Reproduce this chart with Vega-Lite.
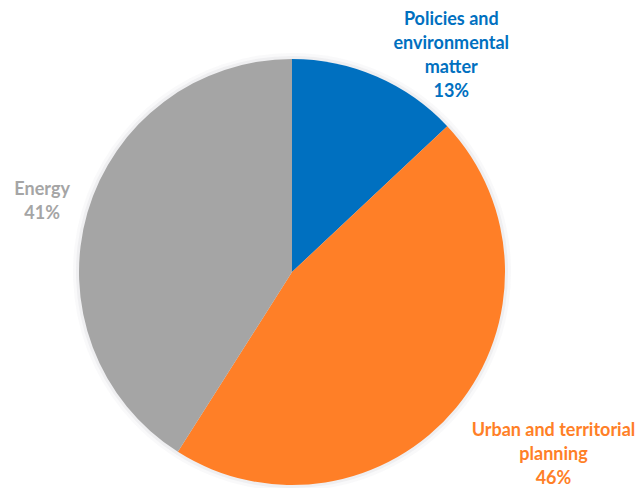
{
  "$schema": "https://vega.github.io/schema/vega-lite/v6.json",
  "width": 584,
  "height": 426,
  "autosize": {"type": "none"},
  "padding": {"left": 0, "top": 59, "right": 56, "bottom": 3},
  "background": "white",
  "config": {"view": {"stroke": null}},
  "data": {
    "values": [
      {"category": "Policies and environmental matter", "share": 13, "order": 1, "label": ["Policies and", "environmental", "matter", "13%"]},
      {"category": "Urban and territorial planning", "share": 46, "order": 2, "label": ["Urban and territorial", "planning", "46%"]},
      {"category": "Energy", "share": 41, "order": 3, "label": ["Energy", "41%"]}
    ]
  },
  "encoding": {
    "theta": {"field": "share", "type": "quantitative", "stack": true},
    "order": {"field": "order", "type": "ordinal"}
  },
  "layer": [
    {
      "mark": {"type": "arc", "outerRadius": 219, "color": "#9aa0a6", "opacity": 0.06, "stroke": null}
    },
    {
      "mark": {"type": "arc", "outerRadius": 216, "color": "#9aa0a6", "opacity": 0.1, "stroke": null}
    },
    {
      "mark": {"type": "arc", "outerRadius": 213, "stroke": null},
      "encoding": {
        "color": {
          "field": "category",
          "type": "nominal",
          "scale": {
            "domain": ["Policies and environmental matter", "Urban and territorial planning", "Energy"],
            "range": ["#0070C0", "#FF7F27", "#A5A5A5"]
          },
          "legend": null
        }
      }
    },
    {
      "mark": {
        "type": "text",
        "radius": 255,
        "font": "Lato",
        "fontWeight": "bold",
        "fontSize": 18,
        "lineHeight": 24,
        "align": "center",
        "baseline": "middle",
        "dx": {"expr": "datum.category === 'Energy' ? -5 : datum.category === 'Urban and territorial planning' ? 65 : 58"},
        "dy": {"expr": "datum.category === 'Energy' ? -11 : datum.category === 'Urban and territorial planning' ? -4 : -18"}
      },
      "encoding": {
        "text": {"field": "label"},
        "color": {
          "field": "category",
          "type": "nominal",
          "scale": {
            "domain": ["Policies and environmental matter", "Urban and territorial planning", "Energy"],
            "range": ["#1F72C4", "#FF8533", "#A6A6A6"]
          },
          "legend": null
        }
      }
    }
  ]
}
